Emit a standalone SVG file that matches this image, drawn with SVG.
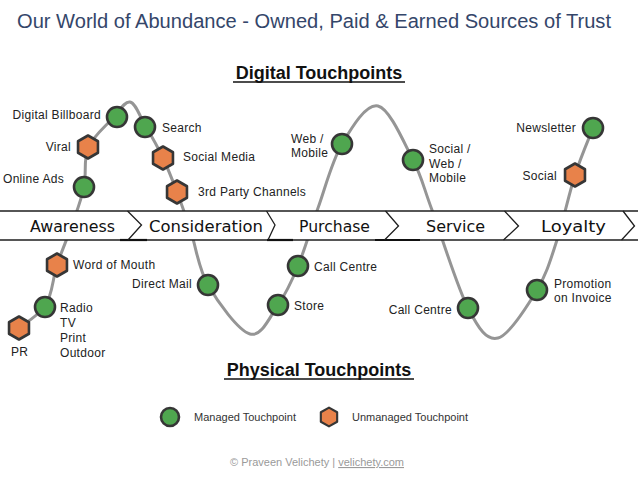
<svg xmlns="http://www.w3.org/2000/svg" width="638" height="479" viewBox="0 0 638 479">
<style>
.lbl{font-family:"Liberation Sans",Arial,sans-serif;font-size:12px;fill:#222;letter-spacing:0.3px}
.stage{font-family:"DejaVu Sans","Liberation Sans",sans-serif;font-size:15px;fill:#111}
.head{font-family:"Liberation Sans",Arial,sans-serif;font-size:18px;font-weight:bold;fill:#111}
.leg{font-family:"Liberation Sans",Arial,sans-serif;font-size:11px;fill:#333}
.foot{font-family:"Liberation Sans",Arial,sans-serif;font-size:11px;fill:#9a9a9a}
.band{stroke:#1e1e1e;stroke-width:1.4;fill:none}
.chev{stroke:#1e1e1e;stroke-width:1.3;fill:none;stroke-linejoin:miter}
.m{fill:#4fa64f;stroke:#363636;stroke-width:2.6}
.u{fill:#e8824a;stroke:#363636;stroke-width:2.6;stroke-linejoin:round}
.curve{fill:none;stroke:#959595;stroke-width:3;stroke-linecap:round}
</style>
<defs>
<polygon id="hex" points="0,-11.5 9.96,-5.75 9.96,5.75 0,11.5 -9.96,5.75 -9.96,-5.75"/>
</defs>
<rect width="638" height="479" fill="#fff"/>
<text x="17" y="28" font-family="Liberation Sans, Arial, sans-serif" font-size="20" fill="#34466a" textLength="594" lengthAdjust="spacingAndGlyphs">Our World of Abundance - Owned, Paid &amp; Earned Sources of Trust</text>

<g id="heading-digital">
<text class="head" x="319" y="79" text-anchor="middle">Digital Touchpoints</text>
<line x1="233" y1="82" x2="405" y2="82" stroke="#111" stroke-width="1.6"/>
</g>
<g id="heading-physical">
<text class="head" x="319" y="376" text-anchor="middle">Physical Touchpoints</text>
<line x1="224" y1="379" x2="414" y2="379" stroke="#111" stroke-width="1.6"/>
</g>

<g id="connectors">
<path class="curve" d="M10,334 C15.8,329.3 37.2,317.5 45,306 C52.8,294.5 52.5,278.5 57,265 C61.5,251.5 67.5,238 72,225 C76.5,212 81.3,199.8 84,187 C86.7,174.2 83.3,159.3 88,148 C92.7,136.7 105,126.7 112,119 C119,111.3 124.5,101 130,102 C135.5,103 139.5,115.7 145,125 C150.5,134.3 157.7,146.8 163,158 C168.3,169.2 172.3,179.7 177,192 C181.7,204.3 185.8,216.5 191,232 C196.2,247.5 198.2,268 208,285 C217.8,302 238.3,330.7 250,334 C261.7,337.3 270,316.3 278,305 C286,293.7 291.3,282.2 298,266 C304.7,249.8 310.7,228.3 318,208 C325.3,187.7 332,161 342,144 C352,127 366.2,103.3 378,106 C389.8,108.7 404,142.7 413,160 C422,177.3 422.8,185.3 432,210 C441.2,234.7 457,286.7 468,308 C479,329.3 486.5,341 498,338 C509.5,335 527.2,306.3 537,290 C546.8,273.7 550.7,259.2 557,240 C563.3,220.8 569,193.7 575,175 C581,156.3 590,135.8 593,128"/>
</g>

<g id="stages">
<rect x="0" y="211" width="638" height="29" fill="#fff"/>
<line class="band" x1="0" y1="211" x2="638" y2="211"/>
<line class="band" x1="0" y1="240" x2="638" y2="240"/>
<line x1="120" y1="240" x2="147" y2="240" stroke="#111" stroke-width="2.2"/>
<line x1="267" y1="240" x2="293" y2="240" stroke="#111" stroke-width="2.2"/>
<line x1="375" y1="240" x2="420" y2="240" stroke="#111" stroke-width="2"/>
<polyline class="chev" points="127.5,211 141.5,225 128,240"/>
<polyline class="chev" points="266.5,211 275,225 268,240"/>
<polyline class="chev" points="385.5,211 398.5,226 384.5,240"/>
<polyline class="chev" points="504.5,211 518.5,226 503.5,240"/>
<polyline class="chev" points="623,211 634.5,226 621.5,240"/>
<text class="stage" x="30" y="232" textLength="85" lengthAdjust="spacingAndGlyphs">Awareness</text>
<text class="stage" x="149" y="232" textLength="114" lengthAdjust="spacingAndGlyphs">Consideration</text>
<text class="stage" x="299" y="232" textLength="71" lengthAdjust="spacingAndGlyphs">Purchase</text>
<text class="stage" x="426" y="232" textLength="59" lengthAdjust="spacingAndGlyphs">Service</text>
<text class="stage" x="541" y="232" textLength="65" lengthAdjust="spacingAndGlyphs">Loyalty</text>
</g>

<g id="node-digital-billboard"><circle class="m" cx="117" cy="117" r="10"/><text class="lbl" x="101" y="119" text-anchor="end">Digital Billboard</text></g>
<g id="node-search"><circle class="m" cx="145" cy="127" r="10"/><text class="lbl" x="162" y="132">Search</text></g>
<g id="node-viral"><use href="#hex" class="u" x="88" y="147"/><text class="lbl" x="71" y="151" text-anchor="end">Viral</text></g>
<g id="node-online-ads"><circle class="m" cx="84" cy="187" r="10"/><text class="lbl" x="3" y="183">Online Ads</text></g>
<g id="node-social-media"><use href="#hex" class="u" x="163" y="158"/><text class="lbl" x="183" y="161">Social Media</text></g>
<g id="node-3rd-party"><use href="#hex" class="u" x="177" y="192"/><text class="lbl" x="198" y="196">3rd Party Channels</text></g>
<g id="node-word-of-mouth"><use href="#hex" class="u" x="57" y="265"/><text class="lbl" x="73" y="269">Word of Mouth</text></g>
<g id="node-radio"><circle class="m" cx="45" cy="307" r="10"/><text class="lbl" x="60" y="312">Radio</text><text class="lbl" x="60" y="327">TV</text><text class="lbl" x="60" y="342">Print</text><text class="lbl" x="60" y="357">Outdoor</text></g>
<g id="node-pr"><use href="#hex" class="u" x="19" y="328"/><text class="lbl" x="11" y="356">PR</text></g>
<g id="node-direct-mail"><circle class="m" cx="208" cy="285" r="10"/><text class="lbl" x="192" y="288" text-anchor="end">Direct Mail</text></g>
<g id="node-store"><circle class="m" cx="278" cy="305" r="10"/><text class="lbl" x="294" y="310">Store</text></g>
<g id="node-call-centre-1"><circle class="m" cx="298" cy="266" r="10"/><text class="lbl" x="314" y="271">Call Centre</text></g>
<g id="node-web-mobile"><circle class="m" cx="342" cy="144" r="10"/><text class="lbl" x="291" y="143">Web /</text><text class="lbl" x="291" y="157">Mobile</text></g>
<g id="node-social-web-mobile"><circle class="m" cx="413" cy="160" r="10"/><text class="lbl" x="429" y="153">Social /</text><text class="lbl" x="429" y="167.5">Web /</text><text class="lbl" x="429" y="182">Mobile</text></g>
<g id="node-call-centre-2"><circle class="m" cx="468" cy="308" r="10"/><text class="lbl" x="452" y="314" text-anchor="end">Call Centre</text></g>
<g id="node-promotion"><circle class="m" cx="537" cy="290" r="10"/><text class="lbl" x="554" y="288">Promotion</text><text class="lbl" x="554" y="302">on Invoice</text></g>
<g id="node-social"><use href="#hex" class="u" x="575" y="175"/><text class="lbl" x="557" y="180" text-anchor="end">Social</text></g>
<g id="node-newsletter"><circle class="m" cx="593" cy="128" r="10"/><text class="lbl" x="576" y="132" text-anchor="end">Newsletter</text></g>

<g id="legend">
<circle class="m" cx="170" cy="417" r="9"/>
<text class="leg" x="194" y="421">Managed Touchpoint</text>
<use href="#hex" class="u" x="329" y="417" transform="translate(329,417) scale(0.82) translate(-329,-417)"/>
<text class="leg" x="352" y="421">Unmanaged Touchpoint</text>
</g>

<g id="footer">
<text class="foot" x="230" y="466">© Praveen Velichety | <tspan text-decoration="underline">velichety.com</tspan></text>
</g>
</svg>
